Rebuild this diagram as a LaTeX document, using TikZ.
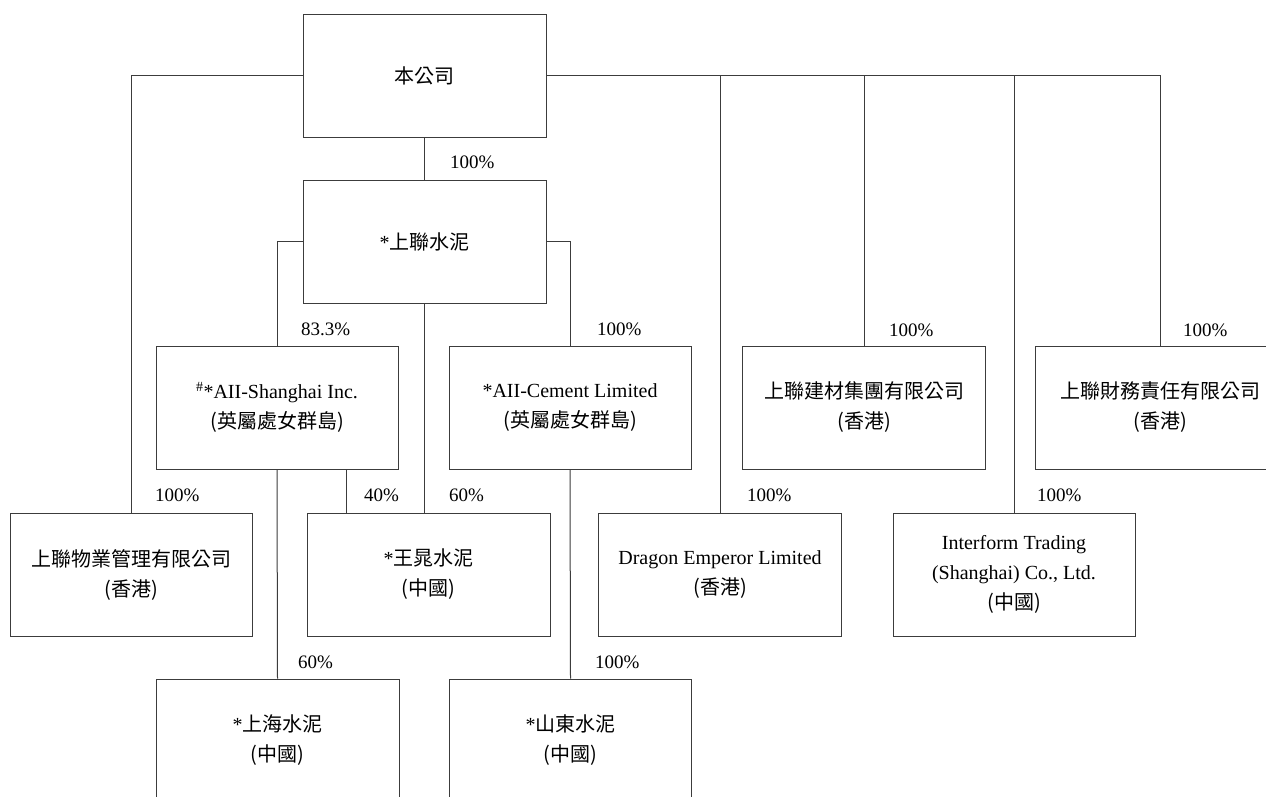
\documentclass[tikz,border=0pt]{standalone}
\usepackage{fontspec}
\setmainfont{Liberation Serif}
\newfontfamily\cjk{Noto Sans CJK TC}
\definecolor{linegray}{RGB}{60,60,60}
\begin{document}
\begin{tikzpicture}[x=1pt,y=-1pt,
  every node/.style={font=\fontsize{20}{30}\selectfont},
  box/.style={draw=linegray,line width=1pt,minimum width=243pt,minimum height=123pt,align=center,inner sep=0pt},
  link/.style={draw=linegray,line width=1pt},
  pct/.style={anchor=west,inner sep=0pt,font=\fontsize{19}{20}\selectfont}]
\useasboundingbox (0,0) rectangle (1266,796);
\fill[white] (0,0) rectangle (1266,796);
% boxes
\node[box] (top) at (424.5,75.5) {{\cjk 本公司}};
\node[box] (shuini) at (424.5,241.5) {*{\cjk 上聯水泥}};
\node[box,minimum width=242pt] (aiish) at (277,407.5) {\textsuperscript{\#}*AII-Shanghai Inc.\\{\cjk (英屬處女群島)}};
\node[box,minimum width=242pt] (aiicem) at (570,407.5) {*AII-Cement Limited\\{\cjk (英屬處女群島)}};
\node[box] (jiancai) at (864,407.5) {{\cjk 上聯建材集團有限公司}\\{\cjk (香港)}};
\node[box,minimum width=250pt] (caiwu) at (1160,407.5) {{\cjk 上聯財務責任有限公司}\\{\cjk (香港)}};
\node[box,minimum width=242pt] (wuye) at (131,574.5) {{\cjk 上聯物業管理有限公司}\\{\cjk (香港)}};
\node[box] (wangchao) at (428.5,574.5) {*{\cjk 王晁水泥}\\{\cjk (中國)}};
\node[box] (dragon) at (720,574.5) {Dragon Emperor Limited\\{\cjk (香港)}};
\node[box,minimum width=242pt] (interform) at (1014,574.5) {Interform Trading\\(Shanghai) Co., Ltd.\\{\cjk (中國)}};
\node[box] (shanghai) at (277.5,740.5) {*{\cjk 上海水泥}\\{\cjk (中國)}};
\node[box,minimum width=242pt] (shandong) at (570.5,740.5) {*{\cjk 山東水泥}\\{\cjk (中國)}};
% connectors from top
\draw[link] (top.west) -| (wuye.north);
\draw[link] (top.east) -| (caiwu.north);
\draw[link] (dragon.north |- top.east) -- (dragon.north);
\draw[link] (jiancai.north |- top.east) -- (jiancai.north);
\draw[link] (interform.north |- top.east) -- (interform.north);
\draw[link] (top.south) -- (shuini.north);
% connectors from shuini
\draw[link] (shuini.west) -| (aiish.north);
\draw[link] (shuini.east) -| (aiicem.north);
\coordinate (sb) at (shuini.south);
\draw[link] (sb) -- (sb |- wangchao.north);
% from aiish
\draw[link] (aiish.south) -- (shanghai.north);
\coordinate (ab) at ([xshift=69pt]aiish.south);
\draw[link] (ab) -- (ab |- wangchao.north);
% from aiicem
\draw[link] (aiicem.south) -- (shandong.north);
% percentage labels
\node[pct] (p1) at (450,162) {100\%};
\node[pct] (p2) at (301,329) {83.3\%};
\node[pct] (p3) at (597,329) {100\%};
\node[pct] (p4) at (889,330) {100\%};
\node[pct] (p5) at (1183,330) {100\%};
\node[pct] (p6) at (155,495) {100\%};
\node[pct] (p7) at (364,495) {40\%};
\node[pct] (p8) at (449,495) {60\%};
\node[pct] (p9) at (747,495) {100\%};
\node[pct] (p10) at (1037,495) {100\%};
\node[pct] (p11) at (298,662) {60\%};
\node[pct] (p12) at (595,662) {100\%};
\end{tikzpicture}
\end{document}
